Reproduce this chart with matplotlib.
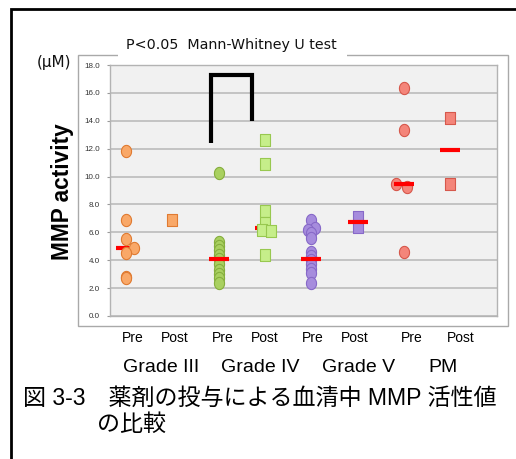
import numpy as np
import matplotlib
matplotlib.use("Agg")
import matplotlib.pyplot as plt
from matplotlib.patches import Rectangle
from matplotlib.lines import Line2D

# ---------------- data ----------------
sub_labels = ["Pre", "Post", "Pre", "Post", "Pre", "Post", "Pre", "Post"]
group_labels = ["Grade III", "Grade IV", "Grade V", "PM"]

g3_pre = [11.85, 6.88, 5.52, 4.85, 4.50, 2.80, 2.72]
g3_pre_jit = [0, 0, 0, 0.166, 0, 0, 0]
g3_post = [6.9]
g3_post_jit = [0]

g4_pre = [10.25, 5.3, 5.0, 4.7, 4.4, 4.1, 3.7, 3.3, 3.0, 2.7, 2.4]
g4_pre_jit = [0] * 11
g4_post = [12.65, 10.9, 7.5, 6.7, 6.2, 6.1, 4.35]
g4_post_jit = [0, 0, 0, 0, -0.06, 0.14, 0]

g5_pre = [6.85, 6.3, 6.2, 5.95, 5.6, 4.6, 4.3, 4.0, 3.7, 3.4, 3.1, 2.35]
g5_pre_jit = [0, 0.085, -0.08, 0, 0, 0, 0, 0, 0, 0, 0, 0]
g5_post = [7.1, 6.35]
g5_post_jit = [0, 0]

pm_pre = [16.35, 13.34, 9.44, 9.23, 4.57]
pm_pre_jit = [0, 0, -0.17, 0.075, 0]
pm_post = [14.22, 9.47]
pm_post_jit = [0, 0]

medians = [4.85, None, 4.1, 6.33, 4.07, 6.74, 9.44, 11.88]

bracket_x = [2.84, 2.84, 3.73, 3.73]
bracket_y = [12.4, 17.3, 17.3, 14.0]

yticks = [0, 2, 4, 6, 8, 10, 12, 14, 16, 18]

# ---------------- figure ----------------
W, H = 516, 459
fig = plt.figure(figsize=(W / 100, H / 100), dpi=100)
fig.patch.set_facecolor("white")


def fx(x):
    return x / W


def fy(y):
    return 1 - y / H


# outer black frame (left and top)
fig.add_artist(Line2D([fx(10.5), fx(10.5), fx(520)], [fy(470), fy(8.5), fy(8.5)],
                      color="black", lw=2.0, solid_joinstyle="miter"))

# chart area box
fig.add_artist(Rectangle((fx(78), fy(326)), fx(508) - fx(78), fy(55) - fy(326),
                         facecolor="white", edgecolor="#A9A9A9", lw=1.0, zorder=0))
# white box behind title
fig.add_artist(Rectangle((fx(118), fy(57)), fx(347) - fx(118), fy(33) - fy(57),
                         facecolor="white", edgecolor="none", zorder=1))
fig.text(fx(231), fy(45), "P<0.05  Mann-Whitney U test", ha="center", va="center",
         fontsize=10.3, family="DejaVu Sans", color="#111111", zorder=2)

fig.text(fx(54), fy(62), "(μM)", ha="center", va="center", fontsize=11,
         family="DejaVu Sans", color="#111111")
fig.text(fx(63), fy(192), "MMP activity", ha="center", va="center", rotation=90,
         fontsize=16.3, fontweight="bold", family="Liberation Sans", color="black")

ax = fig.add_axes([fx(110), fy(316), fx(497) - fx(110), fy(65) - fy(316)])
ax.set_facecolor("#F1F1F1")
ax.set_xlim(0.654, 9.01)
ax.set_ylim(0, 18)
ax.set_yticks(yticks)
ax.set_yticklabels([f"{v:.1f}" for v in yticks], fontsize=5.8,
                   family="Liberation Sans", color="#333333")
ax.tick_params(axis="y", direction="out", length=2.5, width=0.8, color="#9A9A9A", pad=5)
ax.set_xticks([])
for s in ax.spines.values():
    s.set_color("#B3B3B3")
    s.set_linewidth(1.0)
ax.yaxis.grid(True, color="#BBBBBB", lw=1.2)
ax.set_axisbelow(True)

t = np.linspace(0, 2 * np.pi, 60)
ell = list(zip(0.83 * np.cos(t), np.sin(t)))
sq = [(-0.83, -1), (0.83, -1), (0.83, 1), (-0.83, 1), (-0.83, -1)]

series = [
    (g3_pre, g3_pre_jit, ell, "#F9A868", "#E07B32"),
    (g3_post, g3_post_jit, sq, "#F9A868", "#E07B32"),
    (g4_pre, g4_pre_jit, ell, "#A9D060", "#86AE3E"),
    (g4_post, g4_post_jit, sq, "#C6EE8A", "#98C850"),
    (g5_pre, g5_pre_jit, ell, "#A68CDD", "#8769C8"),
    (g5_post, g5_post_jit, sq, "#A68CDD", "#8769C8"),
    (pm_pre, pm_pre_jit, ell, "#F4857A", "#D6584C"),
    (pm_post, pm_post_jit, sq, "#F4857A", "#D6584C"),
]
under = {0, 3}  # groups whose median bar is drawn under the markers
for i, (vals, jit, mk, fc, ec) in enumerate(series):
    pos = i + 1
    xs = [pos + j for j in jit]
    ax.plot(xs, vals, linestyle="none", marker=mk, ms=8.8, mfc=fc, mec=ec, mew=0.8,
            zorder=5 if i in under else 3, clip_on=False)
    m = medians[i]
    if m is not None:
        ax.hlines(m, pos - 0.215, pos + 0.215, color="#FF0000", lw=3.0,
                  capstyle="butt", zorder=4)

ax.plot(bracket_x, bracket_y, color="black", lw=3.0, solid_joinstyle="miter",
        solid_capstyle="butt", zorder=6, clip_on=False)

# category labels
sub_x = [133, 175, 223, 265, 313, 355, 412, 461]
for lab, x in zip(sub_labels, sub_x):
    fig.text(fx(x), fy(338), lab, ha="center", va="center", fontsize=10,
             family="Liberation Sans", color="black")
grp_x = [161, 260, 359, 443]
for lab, x in zip(group_labels, grp_x):
    fig.text(fx(x), fy(367), lab, ha="center", va="center", fontsize=14,
             family="Liberation Sans", color="black")

cap_font = ["Liberation Sans", "Noto Sans CJK JP"]
fig.text(fx(23), fy(398), "図 3-3\u3000薬剤の投与による血清中 MMP 活性値", ha="left",
         va="center", fontsize=16.6, family=cap_font, color="black")
fig.text(fx(97), fy(424), "の比較", ha="left", va="center", fontsize=16.6,
         family=cap_font, color="black")

fig.savefig("out.png", dpi=100)
